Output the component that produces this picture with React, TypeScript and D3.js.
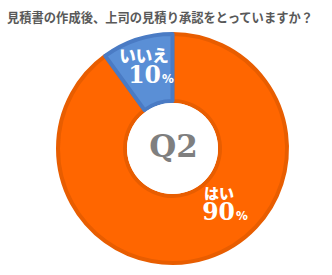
import React from "react";
import * as d3 from "d3";

const categories = ["はい", "いいえ"];
const values = [90, 10];
const colors = ["#FF6600", "#5A8FD6"];
const strokes = ["#E85D00", "#4A7BC4"];
const title = "見積書の作成後、上司の見積り承認をとっていますか？";
const centerLabel = "Q2";

export default function App() {
  const W = 332, H = 275;
  const cx = 172.5, cy = 148.5;
  const pie = d3.pie<number>().sort(null).value((d) => d)(values);
  const arc = d3.arc<d3.PieArcDatum<number>>().innerRadius(47.5).outerRadius(114.5);
  const jp = "'Noto Sans CJK JP', sans-serif";
  const serif = "'DejaVu Serif', 'Liberation Serif', serif";
  const labelPos = [
    { x: 219, y: 198.5, nx: 225, fs: 15 },
    { x: 144, y: 61.5, nx: 151, fs: 16.5 },
  ];
  return (
    <svg width={W} height={H} style={{ position: "absolute", left: 0, top: 0, background: "#fff" }}>
      <text x={7} y={22} fontFamily={jp} fontWeight={700} fontSize={12.6} fill="#595959" textLength={306} lengthAdjust="spacingAndGlyphs">
        {title}
      </text>
      <g transform={`translate(${cx},${cy})`}>
        {pie.map((d, i) => (
          <path key={i} d={arc(d) || ""} fill={colors[i]} stroke={strokes[i]} strokeWidth={4} strokeLinejoin="round" />
        ))}
        <circle r={45.5} fill="#fff" />
        <text x={1} y={8.5} textAnchor="middle" fontFamily={serif} fontWeight={700} fontSize={31} fill="#7F7F7F">
          {centerLabel}
        </text>
      </g>
      {pie.map((d, i) => {
        const p = labelPos[i];
        return (
          <text key={"l" + i} fill="#fff" fontWeight={900} textAnchor="middle">
            <tspan x={p.x} y={p.y} fontSize={p.fs} fontFamily={jp}>{categories[i]}</tspan>
            <tspan x={p.nx} y={p.y + 21} fontSize={23.5} fontFamily={serif}>{values[i]}</tspan>
            <tspan fontSize={12} fontFamily={jp} dx={1}>%</tspan>
          </text>
        );
      })}
    </svg>
  );
}
